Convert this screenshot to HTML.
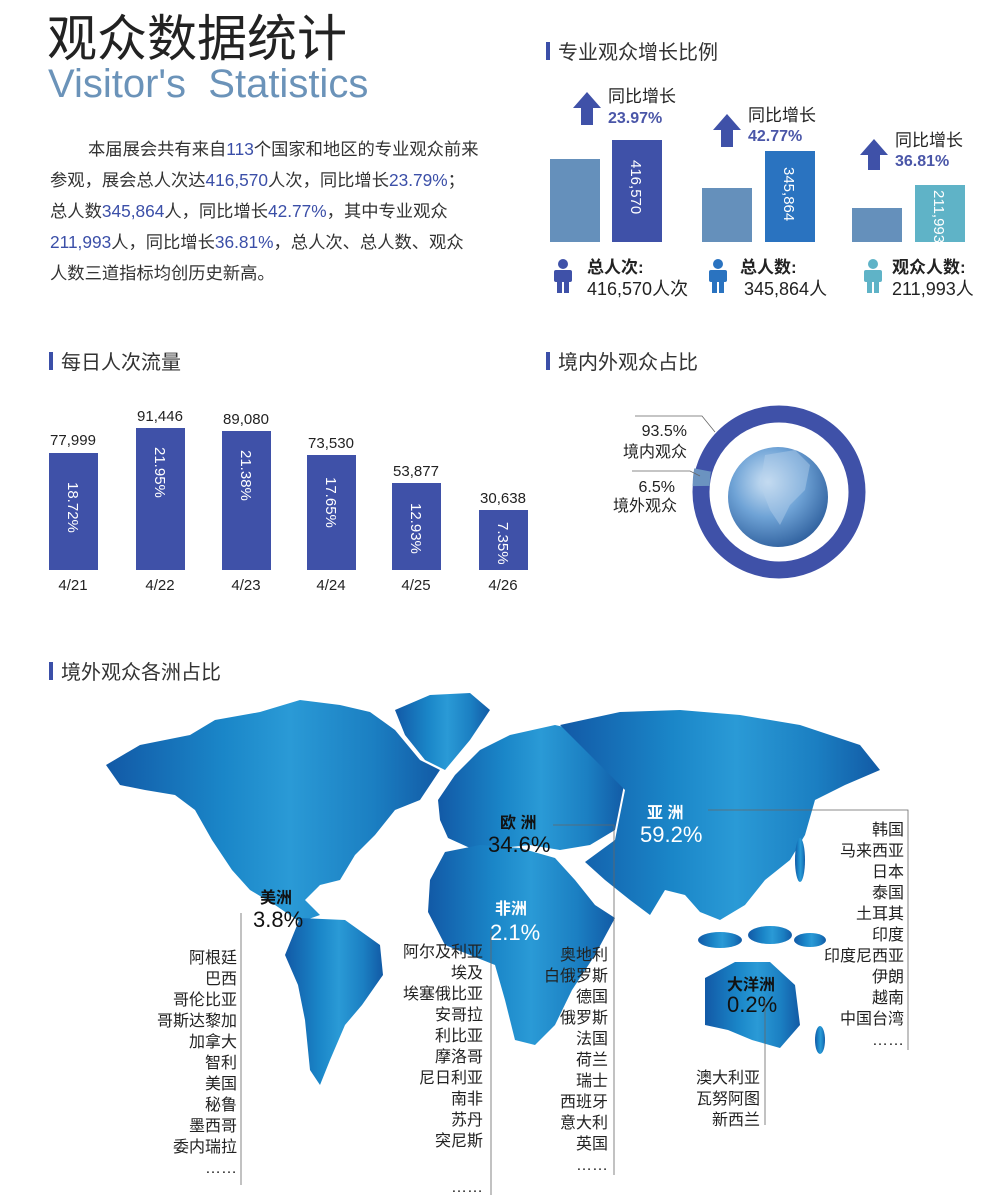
<!DOCTYPE html>
<html><head><meta charset="utf-8">
<style>
html,body{margin:0;padding:0;background:#fff;}
body{width:999px;height:1195px;overflow:hidden;position:relative;font-family:"Liberation Sans","Noto Sans CJK SC",sans-serif;}
svg text{font-family:"Liberation Sans","Noto Sans CJK SC",sans-serif;}
</style></head><body>
<svg width="999" height="1195" viewBox="0 0 999 1195" xmlns="http://www.w3.org/2000/svg">
<defs>
<linearGradient id="mapg" x1="0" x2="1" y1="0" y2="0">
<stop offset="0" stop-color="#1259a6"/><stop offset="0.35" stop-color="#1a86c8"/><stop offset="0.55" stop-color="#2a9ad6"/><stop offset="0.8" stop-color="#1b7fc2"/><stop offset="1" stop-color="#125aa5"/>
</linearGradient>
<radialGradient id="globe" cx="0.4" cy="0.35" r="0.7">
<stop offset="0" stop-color="#cfe3f5"/><stop offset="0.5" stop-color="#6fa3d6"/><stop offset="1" stop-color="#2d5e9c"/>
</radialGradient>
</defs>

<text x="47" y="56" font-size="50" fill="#222">观众数据统计</text>
<text x="48" y="97" font-size="40" fill="#6b93b9" xml:space="preserve">Visitor's  Statistics</text>

<g font-size="17.3" fill="#333">
<text x="88" y="155">本届展会共有来自<tspan fill="#3b4fa8">113</tspan>个国家和地区的专业观众前来</text>
<text x="50" y="186">参观，展会总人次达<tspan fill="#3b4fa8">416,570</tspan>人次，同比增长<tspan fill="#3b4fa8">23.79%</tspan>；</text>
<text x="50" y="217">总人数<tspan fill="#3b4fa8">345,864</tspan>人，同比增长<tspan fill="#3b4fa8">42.77%</tspan>，其中专业观众</text>
<text x="50" y="248"><tspan fill="#3b4fa8">211,993</tspan>人，同比增长<tspan fill="#3b4fa8">36.81%</tspan>，总人次、总人数、观众</text>
<text x="50" y="279">人数三道指标均创历史新高。</text>
</g>

<g font-size="20" fill="#333">
<rect x="546" y="42" width="4" height="18" fill="#3b4fa8"/><text x="558" y="59">专业观众增长比例</text>
<rect x="49" y="352" width="4" height="18" fill="#3b4fa8"/><text x="61" y="369">每日人次流量</text>
<rect x="546" y="352" width="4" height="18" fill="#3b4fa8"/><text x="558" y="369">境内外观众占比</text>
<rect x="49" y="662" width="4" height="18" fill="#3b4fa8"/><text x="61" y="679">境外观众各洲占比</text>
</g>

<rect x="550" y="159" width="50" height="83" fill="#6590bb"/>
<rect x="612" y="140" width="50" height="102" fill="#3f51a8"/>
<rect x="702" y="188" width="50" height="54" fill="#6590bb"/>
<rect x="765" y="151" width="50" height="91" fill="#2a73c0"/>
<rect x="852" y="208" width="50" height="34" fill="#6590bb"/>
<rect x="915" y="185" width="50" height="57" fill="#5fb3c7"/>
<g fill="#fff" font-size="15">
<text transform="translate(631,160) rotate(90)">416,570</text>
<text transform="translate(784,167) rotate(90)">345,864</text>
<text transform="translate(934,190) rotate(90)">211,993</text>
</g>
<g fill="#3f51a8">
<polygon points="573,108 587,92 601,108 593,108 593,125 581,125 581,108"/>
<polygon points="713,130 727,114 741,130 733,130 733,147 721,147 721,130"/>
<polygon points="860,155 874,139 888,155 880,155 880,170 868,170 868,155"/>
</g>
<g font-size="17" fill="#222">
<text x="608" y="102">同比增长</text>
<text x="748" y="121">同比增长</text>
<text x="895" y="146">同比增长</text>
</g>
<g font-size="16" font-weight="bold" fill="#4a56a8">
<text x="608" y="123">23.97%</text>
<text x="748" y="141">42.77%</text>
<text x="895" y="166">36.81%</text>
</g>
<g>
<g fill="#3f51a8"><circle cx="563" cy="264" r="5"/><rect x="554" y="270" width="18" height="12" rx="2"/><rect x="557" y="280" width="5" height="13"/><rect x="564" y="280" width="5" height="13"/></g>
<g fill="#2a73c0"><circle cx="718" cy="264" r="5"/><rect x="709" y="270" width="18" height="12" rx="2"/><rect x="712" y="280" width="5" height="13"/><rect x="719" y="280" width="5" height="13"/></g>
<g fill="#5fb3c7"><circle cx="873" cy="264" r="5"/><rect x="864" y="270" width="18" height="12" rx="2"/><rect x="867" y="280" width="5" height="13"/><rect x="874" y="280" width="5" height="13"/></g>
</g>
<g font-size="17" font-weight="bold" fill="#222">
<text x="587" y="273">总人次:</text><text x="740" y="273">总人数:</text><text x="892" y="273">观众人数:</text>
</g>
<g font-size="18" fill="#222">
<text x="587" y="295">416,570人次</text><text x="744" y="295">345,864人</text><text x="892" y="295">211,993人</text>
</g>

<g fill="#3f51a8">
<rect x="49" y="453" width="49" height="117"/>
<rect x="136" y="428" width="49" height="142"/>
<rect x="222" y="431" width="49" height="139"/>
<rect x="307" y="455" width="49" height="115"/>
<rect x="392" y="483" width="49" height="87"/>
<rect x="479" y="510" width="49" height="60"/>
</g>
<g font-size="15" fill="#222" text-anchor="middle">
<text x="73" y="445">77,999</text><text x="160" y="421">91,446</text><text x="246" y="424">89,080</text>
<text x="331" y="448">73,530</text><text x="416" y="476">53,877</text><text x="503" y="503">30,638</text>
<text x="73" y="590">4/21</text><text x="160" y="590">4/22</text><text x="246" y="590">4/23</text>
<text x="331" y="590">4/24</text><text x="416" y="590">4/25</text><text x="503" y="590">4/26</text>
</g>
<g font-size="15" fill="#fff">
<text transform="translate(68,482) rotate(90)">18.72%</text>
<text transform="translate(155,447) rotate(90)">21.95%</text>
<text transform="translate(241,450) rotate(90)">21.38%</text>
<text transform="translate(326,477) rotate(90)">17.65%</text>
<text transform="translate(411,503) rotate(90)">12.93%</text>
<text transform="translate(498,522) rotate(90)">7.35%</text>
</g>

<circle cx="779" cy="492" r="78" fill="none" stroke="#3f51a8" stroke-width="17"/>
<path d="M 701.2 486 A 78 78 0 0 1 702.6 470" fill="none" stroke="#6b93c0" stroke-width="17"/>
<circle cx="778" cy="497" r="50" fill="url(#globe)"/>
<path d="M765,455 L795,450 L810,465 L805,490 L790,505 L780,525 L770,510 L760,485 Z" fill="#b5d0ec" opacity="0.45"/>
<g stroke="#666" stroke-width="0.8" fill="none">
<polyline points="635,416 702,416 715,432"/>
<polyline points="632,471 690,471 700,476"/>
</g>
<g font-size="16" fill="#222" text-anchor="end">
<text x="687" y="436">93.5%</text><text x="687" y="457">境内观众</text>
<text x="675" y="492">6.5%</text><text x="677" y="511">境外观众</text>
</g>

<g fill="url(#mapg)">
<path d="M106,765 L140,745 L190,735 L215,720 L260,712 L300,700 L340,705 L370,712 L395,730 L420,760 L440,770 L420,800 L395,810 L375,835 L355,855 L340,880 L320,885 L305,900 L320,915 L300,922 L275,905 L250,890 L232,870 L212,840 L195,810 L175,795 L145,790 L120,785 Z"/>
<path d="M395,710 L430,695 L470,693 L490,710 L470,740 L445,770 L425,760 L405,735 Z"/>
<path d="M300,918 L345,920 L380,945 L383,975 L362,1005 L345,1025 L330,1060 L320,1085 L310,1070 L305,1020 L298,985 L285,955 Z"/>
<path d="M438,800 L455,775 L480,750 L510,735 L555,725 L600,735 L625,780 L615,830 L590,845 L560,850 L530,845 L500,848 L470,848 L448,838 L440,820 Z"/>
<path d="M430,880 L445,852 L480,845 L520,848 L555,858 L575,880 L595,905 L615,918 L595,955 L572,990 L555,1025 L535,1045 L515,1040 L505,1000 L495,965 L470,955 L445,945 L428,912 Z"/>
<path d="M560,725 L620,712 L680,710 L740,715 L800,725 L860,745 L880,770 L845,785 L815,800 L805,835 L790,860 L765,880 L745,905 L720,920 L700,912 L685,895 L665,890 L650,915 L630,900 L605,880 L585,862 L615,840 L625,790 Z"/>
<path d="M705,978 L735,962 L770,962 L795,985 L800,1025 L780,1048 L752,1040 L728,1030 L705,1025 Z"/>
<ellipse cx="720" cy="940" rx="22" ry="8"/><ellipse cx="770" cy="935" rx="22" ry="9"/><ellipse cx="810" cy="940" rx="16" ry="7"/>
<ellipse cx="820" cy="1040" rx="5" ry="14"/><ellipse cx="800" cy="860" rx="5" ry="22"/>
</g>
<g font-weight="bold" font-size="16">
<text x="500" y="828" fill="#111">欧 洲</text>
<text x="647" y="818" fill="#fff">亚 洲</text>
<text x="260" y="903" fill="#111">美洲</text>
<text x="495" y="914" fill="#fff">非洲</text>
<text x="727" y="990" fill="#111">大洋洲</text>
</g>
<g font-size="22">
<text x="488" y="852" fill="#111">34.6%</text>
<text x="640" y="842" fill="#fff">59.2%</text>
<text x="253" y="927" fill="#111">3.8%</text>
<text x="490" y="940" fill="#fff">2.1%</text>
<text x="727" y="1012" fill="#111">0.2%</text>
</g>
<g stroke="#666" stroke-width="0.8" fill="none">
<polyline points="241,913 241,1185"/>
<polyline points="491,930 491,1195"/>
<polyline points="553,825 614,825 614,1175"/>
<polyline points="708,810 908,810 908,1050"/>
<polyline points="765,1000 765,1125"/>
</g>
<g font-size="16" fill="#222" text-anchor="end">
<text x="237" y="963">阿根廷</text><text x="237" y="984">巴西</text><text x="237" y="1005">哥伦比亚</text><text x="237" y="1026">哥斯达黎加</text><text x="237" y="1047">加拿大</text><text x="237" y="1068">智利</text><text x="237" y="1089">美国</text><text x="237" y="1110">秘鲁</text><text x="237" y="1131">墨西哥</text><text x="237" y="1152">委内瑞拉</text><text x="237" y="1173">……</text>
<text x="483" y="957">阿尔及利亚</text><text x="483" y="978">埃及</text><text x="483" y="999">埃塞俄比亚</text><text x="483" y="1020">安哥拉</text><text x="483" y="1041">利比亚</text><text x="483" y="1062">摩洛哥</text><text x="483" y="1083">尼日利亚</text><text x="483" y="1104">南非</text><text x="483" y="1125">苏丹</text><text x="483" y="1146">突尼斯</text><text x="483" y="1192">……</text>
<text x="608" y="960">奥地利</text><text x="608" y="981">白俄罗斯</text><text x="608" y="1002">德国</text><text x="608" y="1023">俄罗斯</text><text x="608" y="1044">法国</text><text x="608" y="1065">荷兰</text><text x="608" y="1086">瑞士</text><text x="608" y="1107">西班牙</text><text x="608" y="1128">意大利</text><text x="608" y="1149">英国</text><text x="608" y="1170">……</text>
<text x="904" y="835">韩国</text><text x="904" y="856">马来西亚</text><text x="904" y="877">日本</text><text x="904" y="898">泰国</text><text x="904" y="919">土耳其</text><text x="904" y="940">印度</text><text x="904" y="961">印度尼西亚</text><text x="904" y="982">伊朗</text><text x="904" y="1003">越南</text><text x="904" y="1024">中国台湾</text><text x="904" y="1045">……</text>
<text x="760" y="1083">澳大利亚</text><text x="760" y="1104">瓦努阿图</text><text x="760" y="1125">新西兰</text>
</g>
</svg>
</body></html>
